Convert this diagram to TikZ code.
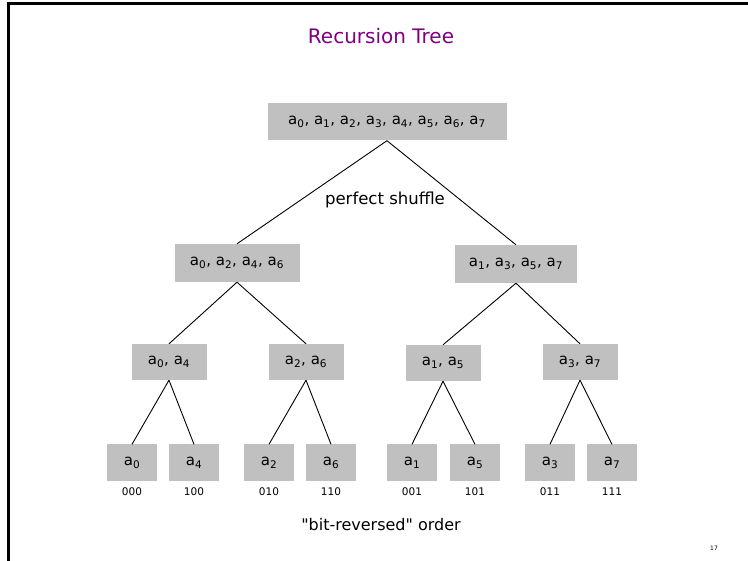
\documentclass[tikz,border=0pt]{standalone}
\usepackage{fontspec}
\setmainfont{DejaVu Sans}[Ligatures=TeXOff]
\definecolor{titlepurple}{RGB}{128,0,128}
\definecolor{boxgray}{RGB}{192,192,192}
\newcommand{\elt}[1]{a\textsubscript{#1}}
\tikzset{
  seqbox/.style={rectangle, fill=boxgray, inner sep=0pt, font=\fontsize{15}{18}\selectfont},
  leafbox/.style={seqbox, minimum width=50pt, minimum height=37pt},
  bits/.style={font=\fontsize{10.5}{13}\selectfont},
  edge/.style={line width=0.9pt, black}
}

\begin{document}
\begin{tikzpicture}[x=1pt, y=-1pt]
\useasboundingbox (0, 0) rectangle (748, 561);
\draw[line width=3pt] (8, 561) -- (8, 4) -- (748, 4);

\node at (381, 36) [font=\fontsize{20}{24}\selectfont, text=titlepurple] (title) {Recursion Tree};

\node at (387, 122) [seqbox, minimum width=239pt, minimum height=37pt] (all) {\elt0, \elt1, \elt2, \elt3, \elt4, \elt5, \elt6, \elt7};

\node at (237, 263) [seqbox, minimum width=125pt, minimum height=38pt] (even) {\elt0, \elt2, \elt4, \elt6};
\node at (516, 264) [seqbox, minimum width=122pt, minimum height=38pt] (odd) {\elt1, \elt3, \elt5, \elt7};

\node at (169, 362) [seqbox, minimum width=75pt, minimum height=36pt] (a04) {\elt0, \elt4};
\node at (306, 362) [seqbox, minimum width=75pt, minimum height=36pt] (a26) {\elt2, \elt6};
\node at (443, 363) [seqbox, minimum width=75pt, minimum height=36pt] (a15) {\elt1, \elt5};
\node at (580, 362) [seqbox, minimum width=75pt, minimum height=36pt] (a37) {\elt3, \elt7};

\node at (132, 463) [leafbox] (a0) {\elt0};
\node at (194, 463) [leafbox] (a4) {\elt4};
\node at (269, 463) [leafbox] (a2) {\elt2};
\node at (331, 463) [leafbox] (a6) {\elt6};
\node at (412, 463) [leafbox] (a1) {\elt1};
\node at (475, 463) [leafbox] (a5) {\elt5};
\node at (550, 463) [leafbox] (a3) {\elt3};
\node at (612, 463) [leafbox] (a7) {\elt7};

\node at (132, 492) [bits] (b0) {000};
\node at (194, 492) [bits] (b4) {100};
\node at (269, 492) [bits] (b2) {010};
\node at (331, 492) [bits] (b6) {110};
\node at (412, 492) [bits] (b1) {001};
\node at (475, 492) [bits] (b5) {101};
\node at (550, 492) [bits] (b3) {011};
\node at (612, 492) [bits] (b7) {111};

\node at (385, 200) [font=\fontsize{16.5}{20}\selectfont] (shuffle) {perfect shuffle};
\node at (381, 525) [font=\fontsize{16}{19}\selectfont] (order) {"bit-reversed" order};
\node at (714, 548) [font=\fontsize{6}{7}\selectfont\rmfamily] (page) {17};

\draw[edge] (all.south) -- (even.north);
\draw[edge] (all.south) -- (odd.north);
\draw[edge] (even.south) -- (a04.north);
\draw[edge] (even.south) -- (a26.north);
\draw[edge] (odd.south) -- (a15.north);
\draw[edge] (odd.south) -- (a37.north);
\draw[edge] (a04.south) -- (a0.north);
\draw[edge] (a04.south) -- (a4.north);
\draw[edge] (a26.south) -- (a2.north);
\draw[edge] (a26.south) -- (a6.north);
\draw[edge] (a15.south) -- (a1.north);
\draw[edge] (a15.south) -- (a5.north);
\draw[edge] (a37.south) -- (a3.north);
\draw[edge] (a37.south) -- (a7.north);
\end{tikzpicture}
\end{document}
